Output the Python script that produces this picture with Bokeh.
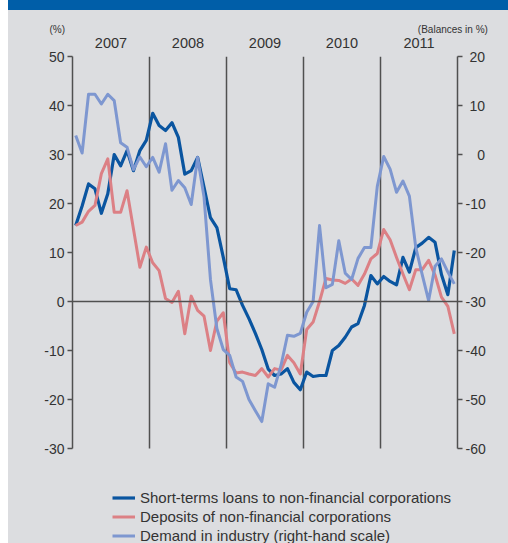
from bokeh.plotting import figure
from bokeh.models import (LinearAxis, Range1d, FixedTicker, Span, Legend, LegendItem)
from bokeh.embed import file_html
from bokeh.resources import INLINE

# ---------------- data (monthly, Jan 2007 - Dec 2011) ----------------
start_year = 2007
years = [2007, 2008, 2009, 2010, 2011]

loans = [15.5, 19.5, 24, 23, 18, 22, 30, 27.7, 30.8, 26.7, 30.8, 32.9,
         38.4, 35.9, 34.9, 36.5, 33.5, 26, 26.7, 29.4, 23.3, 17.1, 15.1, 9,
         2.6, 2.4, -0.8, -3.5, -6.5, -9.8, -13.8, -15.1, -14.8, -13.7, -16.5, -18,
         -14.4, -15.3, -15.1, -15.1, -10, -9, -7.3, -5.2, -4.5, -0.8, 5.3, 3.6,
         5.1, 4.1, 3.4, 9, 6, 11, 11.9, 13.1, 12.1, 5.5, 1.4, 10.4]

deposits = [15.5, 16.2, 18.4, 19.6, 26.1, 29.1, 18.2, 18.2, 22.6, 14.8, 7, 11.1,
            7.9, 6.3, 0.6, -0.2, 2.1, -6.6, 1.1, -1.8, -3, -10, -4, -2.3,
            -12.5, -14.6, -14.4, -14.8, -15.1, -13.7, -15.4, -13.7, -14, -11, -12.5, -14.8,
            -5.7, -4.2, 0, 4.7, 4.4, 4.3, 3.7, 4.6, 3.3, 5.6, 8.7, 9.8,
            14.7, 12.6, 9, 5.6, 2.4, 6.5, 6.5, 8.4, 5.4, 0.9, -1, -6.6]

# right-hand scale (balances in %)
demand = [3.9, 0.3, 12.3, 12.3, 10.3, 12.3, 11, 2.4, 1.5, -3.1, -0.5, -2.5,
          -0.6, -3.6, 2.2, -7.3, -5.3, -6.8, -10.2, -0.6, -8.7, -25.5, -35.5, -39.8,
          -41, -45.4, -46.3, -50, -52.3, -54.5, -46.8, -47.5, -43, -36.9, -37.1, -36.5,
          -32.2, -30, -14.5, -27.2, -26.5, -17.6, -24.2, -25.5, -21.2, -19, -19, -6.5,
          -0.4, -3, -7.7, -5.4, -8.5, -19, -24.5, -29.8, -22.8, -21.3, -24, -26.4]

left_ticks = [-30, -20, -10, 0, 10, 20, 30, 40, 50]
right_ticks = [-60, -50, -40, -30, -20, -10, 0, 10, 20]
left_bounds = (-30, 50)
right_bounds = (-60, 20)

unit_labels = ["(%)", "(Balances in %)"]

labels = ["Short-terms loans to non-financial corporations",
          "Deposits of non-financial corporations",
          "Demand in industry (right-hand scale)"]

x = [start_year + (i + 0.5) / 12 for i in range(len(loans))]

# ---------------- styling ----------------
BG = "#dcdde0"
TXT = "#333333"
AX = "#505050"
FONT = "Liberation Sans"
C_LOANS = "#0a55a0"
C_DEP = "#dc8085"
C_DEM = "#7e97d0"
HEADER = "#005ea8"
NBSP = "\u00a0"

W, H = 508, 543
TOP, LEFT, RIGHT = 56, 72, 51
PLOT_H = 392                       # pixel height of the -30..50 band
ppu = PLOT_H / (left_bounds[1] - left_bounds[0])
extra = (H - TOP - PLOT_H) / ppu   # frame continues below -30 to hold the legend

p = figure(width=W, height=H, output_backend="svg", toolbar_location=None,
           x_range=Range1d(2007, 2012),
           y_range=Range1d(left_bounds[0] - extra, left_bounds[1]),
           x_axis_location=None, y_axis_location=None,
           min_border_left=LEFT, min_border_right=RIGHT, min_border_top=TOP,
           min_border_bottom=0)
p.extra_y_ranges = {"right": Range1d(right_bounds[0] - extra, right_bounds[1])}
p.background_fill_color = BG
p.border_fill_alpha = 0
p.outline_line_color = None
p.grid.visible = False
# page background: white strip on the left, blue header band, grey panel
p.styles = {"background": "linear-gradient(to right, #ffffff 0px, #ffffff 8px, rgba(0,0,0,0) 8px), "
                          "linear-gradient(to bottom, %s 0px, %s 10px, %s 10px)" % (HEADER, HEADER, BG)}

def style_axis(ax):
    ax.axis_line_color = AX
    ax.axis_line_width = 1.5
    ax.major_tick_line_color = AX
    ax.major_tick_line_width = 1.5
    ax.major_tick_out = 5
    ax.major_tick_in = 0
    ax.minor_tick_line_color = None
    ax.major_label_text_font = FONT
    ax.major_label_text_font_size = "14px"
    ax.major_label_text_color = TXT
    ax.major_label_standoff = 3

yl = LinearAxis(ticker=FixedTicker(ticks=left_ticks), bounds=left_bounds,
                major_label_overrides={t: str(t) for t in left_ticks})
style_axis(yl)
p.add_layout(yl, "left")

# right-hand labels are right-aligned in the original: pad with no-break spaces
def pad(t):
    s = str(t)
    return NBSP * {1: 3, 2: 1}.get(len(s), 0) + s

yr = LinearAxis(y_range_name="right", ticker=FixedTicker(ticks=right_ticks),
                bounds=right_bounds,
                major_label_overrides={t: pad(t) for t in right_ticks})
style_axis(yr)
p.add_layout(yr, "right")

def bare_axis(ax, size, standoff):
    ax.axis_line_color = None
    ax.major_tick_line_color = None
    ax.minor_tick_line_color = None
    ax.major_tick_out = 0
    ax.major_tick_in = 0
    ax.major_label_standoff = standoff
    ax.major_label_text_font = FONT
    ax.major_label_text_font_size = size
    ax.major_label_text_color = TXT

year_ticks = [y + 0.5 for y in years]
xt = LinearAxis(ticker=FixedTicker(ticks=year_ticks),
                major_label_overrides={t: str(y) for t, y in zip(year_ticks, years)})
bare_axis(xt, "14.5px", 9)
p.add_layout(xt, "above")

# unit captions: "(%)" sits left of the frame, so it is anchored at the frame
# edge and pushed left by trailing no-break spaces
unit_ticks = [2007.0, 2011.94]
unit_text = [unit_labels[0] + NBSP * 11, unit_labels[1]]
ut = LinearAxis(ticker=FixedTicker(ticks=unit_ticks),
                major_label_overrides={t: s for t, s in zip(unit_ticks, unit_text)})
bare_axis(ut, "10px", 0)
p.add_layout(ut, "above")

# year separators (only over the -30..50 band) and zero line
sep = years[1:]
p.segment(x0=sep, x1=sep, y0=[left_bounds[0]] * len(sep), y1=[left_bounds[1]] * len(sep),
          line_color=AX, line_width=1.5)
p.add_layout(Span(location=0, dimension="width", line_color=AX, line_width=1.5))

r1 = p.line(x, loans, line_color=C_LOANS, line_width=3.2, line_join="round")
r2 = p.line(x, deposits, line_color=C_DEP, line_width=3, line_join="round")
r3 = p.line(x, demand, y_range_name="right", line_color=C_DEM, line_width=3,
            line_join="round")

legend = Legend(items=[LegendItem(label=labels[0], renderers=[r1]),
                       LegendItem(label=labels[1], renderers=[r2]),
                       LegendItem(label=labels[2], renderers=[r3])],
                location=(40, -2), orientation="vertical",
                background_fill_alpha=0, border_line_color=None,
                padding=0, margin=0, spacing=0,
                glyph_width=23, glyph_height=19, label_height=19,
                label_standoff=5, label_text_font=FONT, label_text_font_size="15px",
                label_text_color=TXT)
p.add_layout(legend, "center")

open("out.html", "w").write(file_html(p, INLINE))
